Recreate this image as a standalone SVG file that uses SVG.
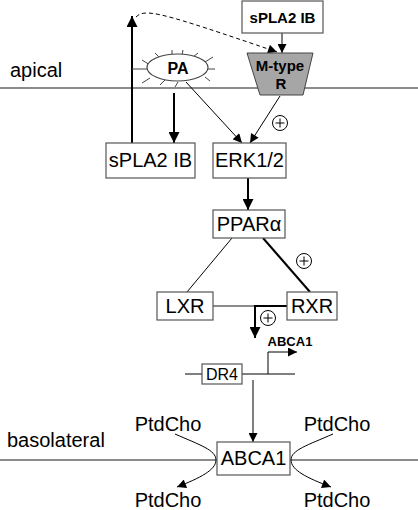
<svg xmlns="http://www.w3.org/2000/svg" width="418" height="510" viewBox="0 0 418 510">
<defs>
<style>
text{font-family:"Liberation Sans",Arial,sans-serif;fill:#000}
.lbl{font-size:20px}
.b{font-weight:bold}
.box{fill:#fff;stroke:#555;stroke-width:1.2}
.mem{stroke:#666;stroke-width:1.3;fill:none}
.thin{stroke:#000;stroke-width:1;fill:none}
.thick{stroke:#000;stroke-width:2;fill:none}
.spk{stroke:#444;stroke-width:1}
.plus{fill:#fff;stroke:#000;stroke-width:1}
</style>
<marker id="ab" viewBox="0 0 10 10" refX="10" refY="5" markerUnits="userSpaceOnUse" markerWidth="12" markerHeight="11" orient="auto"><path d="M0,0 L10,5 L0,10 z" fill="#000"/></marker>
<marker id="as" viewBox="0 0 10 10" refX="10" refY="5" markerUnits="userSpaceOnUse" markerWidth="10" markerHeight="9" orient="auto"><path d="M0,0 L10,5 L0,10 z" fill="#000"/></marker>
</defs>
<rect width="418" height="510" fill="#fff"/>

<g id="membranes">
<line class="mem" x1="0" y1="88" x2="418" y2="88"/>
<line class="mem" x1="0" y1="460" x2="418" y2="460"/>
<text class="lbl" x="10" y="77">apical</text>
<text class="lbl" x="7" y="447">basolateral</text>
</g>

<g id="connectors">
<path class="thick" d="M132,143 L132,16" marker-end="url(#ab)"/>
<path class="thin" d="M136,17 C145,8 160,12 277,52" stroke-dasharray="4,3" marker-end="url(#as)"/>
<path class="thin" d="M282,33 L282,53" marker-end="url(#as)"/>
<path class="thick" d="M174,93 L174,143" marker-end="url(#ab)"/>
<path class="thin" d="M186,82 L242,143" marker-end="url(#as)"/>
<path class="thin" d="M280,96 L250,143" marker-end="url(#as)"/>
<path class="thick" d="M248,178 L248,210" marker-end="url(#ab)"/>
<path class="thin" d="M232,238 L187,292"/>
<path class="thick" d="M263,238 L310,292"/>
<path d="M213,306 L287,306" stroke="#666" stroke-width="1.3" fill="none"/>
<path class="thick" d="M287,306 L255,306 L255,338" marker-end="url(#ab)"/>
<path class="thin" d="M185,374 L202,374 M242,374 L295,374" stroke="#555"/>
<path class="thin" d="M268,374 L268,352 L297,352" marker-end="url(#as)"/>
<path class="thin" d="M253,380 L253,442" marker-end="url(#as)"/>
<path class="thin" d="M175,434 C200,445 216,450 216,460 C216,470 200,478 177,487" marker-end="url(#as)"/>
<path class="thin" d="M333,434 C308,445 291,450 291,460 C291,470 307,478 331,487" marker-end="url(#as)"/>
<circle class="plus" cx="280" cy="123" r="7.5"/>
<path class="thin" d="M275.5,123 h9 M280,118.5 v9"/>
<circle class="plus" cx="304" cy="261" r="7.5"/>
<path class="thin" d="M299.5,261 h9 M304,256.5 v9"/>
<circle class="plus" cx="268" cy="318" r="7.5"/>
<path class="thin" d="M263.5,318 h9 M268,313.5 v9"/>
</g>

<g id="sPLA2_top">
<rect class="box" x="242" y="1" width="81" height="32"/>
<text class="b" x="282.5" y="23" font-size="15" text-anchor="middle">sPLA2 IB</text>
</g>

<g id="Mtype_R">
<path d="M247,53 L313,53 L303,95 L260,95 z" fill="#a6a6a6" stroke="#444" stroke-width="1"/>
<text class="b" x="280" y="71" font-size="15" text-anchor="middle">M-type</text>
<text class="b" x="281" y="89" font-size="15" text-anchor="middle">R</text>
</g>

<g id="PA">
<line class="spk" x1="132" y1="69" x2="147" y2="69"/>
<line class="spk" x1="142" y1="60" x2="150" y2="65"/>
<line class="spk" x1="155" y1="53" x2="160" y2="58"/>
<line class="spk" x1="172" y1="50" x2="172" y2="56"/>
<line class="spk" x1="183" y1="50" x2="182" y2="55"/>
<line class="spk" x1="198" y1="53" x2="193" y2="57"/>
<line class="spk" x1="213" y1="57" x2="205" y2="62"/>
<line class="spk" x1="208" y1="69" x2="215" y2="69"/>
<line class="spk" x1="205" y1="77" x2="210" y2="81"/>
<line class="spk" x1="178" y1="82" x2="175" y2="87"/>
<line class="spk" x1="165" y1="80" x2="160" y2="85"/>
<line class="spk" x1="150" y1="78" x2="142" y2="83"/>
<ellipse cx="177.5" cy="67.5" rx="30.5" ry="13.5" fill="#fff" stroke="#444" stroke-width="1.2"/>
<text class="b" x="178" y="74" font-size="16" text-anchor="middle">PA</text>
</g>

<g id="sPLA2_low">
<rect class="box" x="106" y="143" width="89" height="35"/>
<text class="lbl" x="150.5" y="167" text-anchor="middle">sPLA2 IB</text>
</g>

<g id="ERK">
<rect class="box" x="213" y="143" width="73" height="35"/>
<text class="lbl" x="249.5" y="167" text-anchor="middle">ERK1/2</text>
</g>

<g id="PPARa">
<rect class="box" x="213" y="210" width="72" height="28"/>
<text class="lbl" x="249" y="231" text-anchor="middle">PPARα</text>
</g>

<g id="LXR">
<rect class="box" x="157" y="292" width="56" height="28"/>
<text class="lbl" x="185" y="313" text-anchor="middle">LXR</text>
</g>

<g id="RXR">
<rect class="box" x="287" y="292" width="50" height="28"/>
<text class="lbl" x="312" y="313" text-anchor="middle">RXR</text>
</g>

<g id="gene">
<rect class="box" x="202" y="364" width="40" height="20"/>
<text x="222" y="380" font-size="16" text-anchor="middle">DR4</text>
<text class="b" x="290" y="346" font-size="13" text-anchor="middle">ABCA1</text>
</g>

<g id="ABCA1">
<rect class="box" x="217" y="442" width="73" height="33"/>
<text class="lbl" x="253.5" y="465" text-anchor="middle">ABCA1</text>
</g>

<g id="PtdCho">
<text class="lbl" x="168" y="431" text-anchor="middle">PtdCho</text>
<text class="lbl" x="337" y="431" text-anchor="middle">PtdCho</text>
<text class="lbl" x="168" y="507" text-anchor="middle">PtdCho</text>
<text class="lbl" x="337" y="507" text-anchor="middle">PtdCho</text>
</g>
</svg>
